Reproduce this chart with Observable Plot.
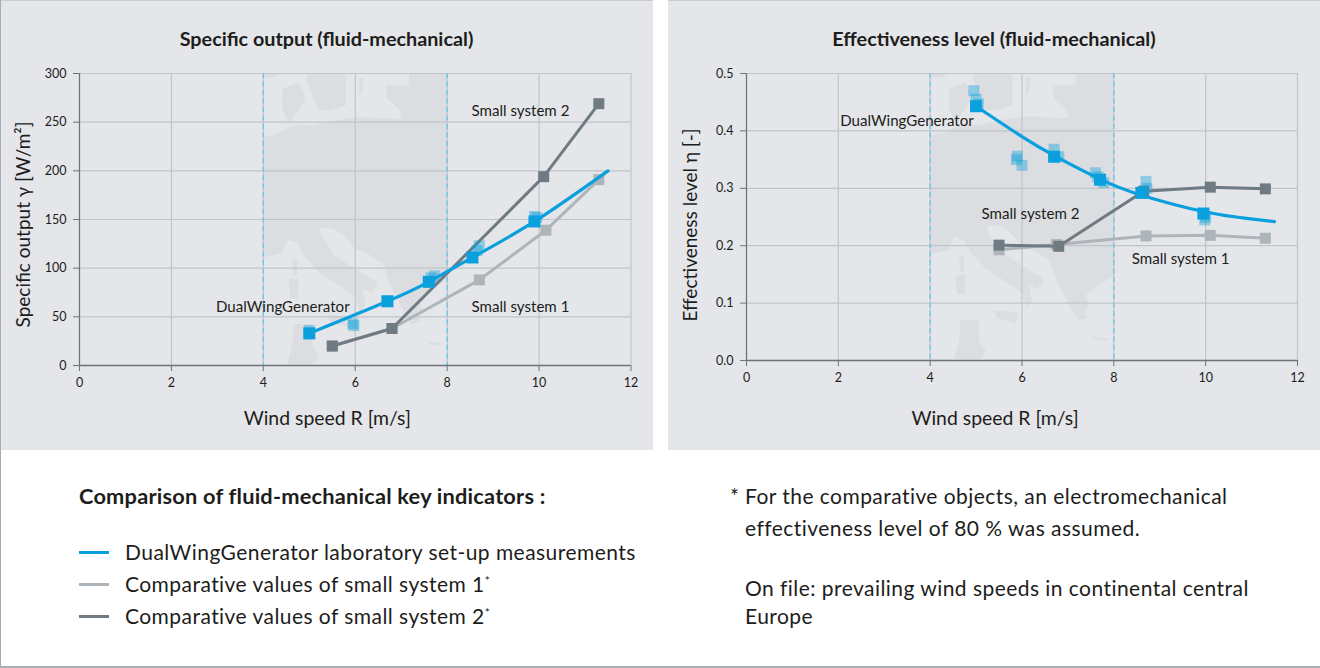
<!DOCTYPE html>
<html><head><meta charset="utf-8">
<script src="https://cdn.jsdelivr.net/npm/d3@7"></script>
<script src="https://cdn.jsdelivr.net/npm/@observablehq/plot@0.6"></script>
<style>
html,body{margin:0;padding:0;background:#fff;}
body{width:1320px;height:668px;overflow:hidden;font-family:Lato,"Open Sans",sans-serif;color:#1d1d1b;position:relative;}
#frame{position:absolute;left:0;top:0;width:1319px;height:666px;border-left:1px solid #a9adb0;border-bottom:2px solid #a9adb0;pointer-events:none;box-sizing:content-box;}
.panel{position:absolute;top:0;height:450px;background:#e4e6e9;border-top:1px solid #c9cccf;box-sizing:border-box;}
#p1{left:0;width:653px;} #p2{left:668px;width:652px;}
.panel h2{margin:0;height:61px;line-height:74px;font-size:19.8px;font-weight:700;text-align:center;}
.panel svg{display:block;background:transparent;font-family:Lato,"Open Sans",sans-serif;}
#legend{position:absolute;left:79px;top:480px;}
#legend h3{margin:0 0 24px 0;font-size:21.8px;line-height:32px;font-weight:700;letter-spacing:.2px;white-space:nowrap;}
.row{height:32px;line-height:32px;font-size:21px;display:flex;align-items:center;letter-spacing:.45px;white-space:nowrap;}
.sw{width:30px;height:3px;margin-right:16px;}
sup{font-size:12px;line-height:0;vertical-align:7px;letter-spacing:0;}
#notes{position:absolute;left:730px;top:480px;font-size:21px;line-height:32px;letter-spacing:.45px;}
#notes div{padding-left:15px;white-space:nowrap;}
</style></head><body>
<div class="panel" id="p1"><h2>Specific output (fluid-mechanical)</h2></div>
<div class="panel" id="p2"><h2>Effectiveness level (fluid-mechanical)</h2></div>
<div id="legend"></div>
<div id="notes"></div>
<div id="frame"></div>
<script>
// ---- values ----
const xTicks = [0,2,4,6,8,10,12];
const prevailing = [4,8];
const outputTicks = [0,50,100,150,200,250,300];
const effectTicks = [0,0.1,0.2,0.3,0.4,0.5];

const outputDWG = [[5,33],[6.7,66],[7.6,86],[8.55,111],[9.9,148]];
const outputDWGCurve = [[5,33],[6.7,66],[7.6,86],[8.55,111],[9.9,148],[11.5,200]];
const outputDWGRaw = [[5,36],[5.95,43],[5.97,41],[7.65,90],[7.72,92],[8.65,118],[8.7,123],[9.95,152],[9.9,153]];
const outputS1 = [[5.5,20],[6.8,38],[8.7,88],[10.15,139],[11.3,191]];
const outputS2 = [[5.5,20],[6.8,38],[10.1,194],[11.3,269]];

const effectDWG = [[5,0.443],[6.7,0.355],[7.7,0.315],[8.6,0.292],[9.95,0.256]];
const effectDWGCurve = [[5,0.443],[6,0.39],[6.7,0.357],[7.7,0.316],[8.6,0.288],[9.95,0.2595],[10.8,0.2485],[11.5,0.242]];
const effectDWGRaw = [[4.95,0.47],[5,0.455],[5.05,0.447],[5.9,0.356],[5.88,0.35],[6,0.34],[6.7,0.368],[6.8,0.355],[7.6,0.327],[7.65,0.32],[7.78,0.31],[8.7,0.312],[8.72,0.3],[10,0.25],[9.98,0.245]];
const effectS1 = [[5.5,0.193],[6.75,0.202],[8.7,0.217],[10.1,0.218],[11.3,0.213]];
const effectS2 = [[5.5,0.201],[6.8,0.199],[8.65,0.295],[10.1,0.302],[11.3,0.299]];

const outputLabels = [["DualWingGenerator",2.97,60],["Small system 2",8.53,261],["Small system 1",8.53,60]];
const effectLabels = [["DualWingGenerator",2.04,0.417],["Small system 2",5.12,0.255],["Small system 1",8.39,0.176]];

// Europe silhouette: wind speed on x, share of the axis height on y
const mapShapes = [
 [[4,.782],[4.26,.79],[4.55,.815],[4.77,.825],[5.07,.82],[5.57,.839],[6.01,.85],[6.3,.85],[6.81,.845],[7.02,.845],[6.95,.879],[6.7,.913],[6.66,.959],[7.17,.959],[7.17,.999],[8,.999],[8,.297],[7.68,.262],[7.39,.228],[7.46,.19],[7.35,.17],[7.43,.15],[7.24,.14],[7.1,.17],[6.95,.22],[6.81,.26],[6.7,.3],[6.62,.345],[6.3,.38],[6,.4],[5.75,.445],[5.5,.47],[5.24,.47],[5.28,.44],[5.57,.375],[6.01,.33],[6.44,.29],[6.48,.27],[6.33,.25],[6.15,.265],[6.22,.21],[6.1,.18],[6.01,.235],[5.64,.275],[5.21,.32],[4.92,.37],[4.73,.42],[4.52,.43],[4.41,.385],[4,.37]],
 [[4.95,.999],[5.79,.999],[5.79,.89],[5.43,.873],[5.21,.873],[5.03,.94],[4.95,.98]],
 [[4.41,.947],[4.77,.97],[4.92,.913],[4.77,.879],[4.55,.828],[4.41,.879]],
 [[4,.999],[4.41,.999],[4.26,.987],[4,.987]],
 [[6.1,.985],[6.19,.985],[6.13,.93],[6.08,.93]],
 [[4.63,.365],[4.75,.365],[4.73,.31],[4.66,.31]],
 [[4.55,.297],[4.77,.297],[4.75,.23],[4.58,.23]],
 [[5.39,.175],[5.93,.165],[5.86,.13],[5.46,.148]],
 [[4.66,.142],[5.06,.142],[5.06,.068],[5.21,.034],[5.1,.005],[4.52,.005],[4.63,.068]],
 [[7.53,.085],[7.93,.074],[7.68,.068]]
];

const legendTitle = "Comparison of fluid-mechanical key indicators :";
const legendItems = [
 ["DualWingGenerator laboratory set-up measurements","#0a9fdd",""],
 ["Comparative values of small system 1","#aeb5ba","*"],
 ["Comparative values of small system 2","#6f7a82","*"]
];
const noteLines = ["For the comparative objects, an electromechanical","effectiveness level of 80 % was assumed.","","On file: prevailing wind speeds in continental central","Europe"];

// ---- drawing ----
const BLUE="#0a9fdd", S1="#aeb5ba", S2="#6f7a82", GRID="#c0c5c9", AXIS="#6e7478", DASH="#6cc5e6", MAP="#dbdde0";

function chart({yMax,yTicks,tickFmt,yTitle,dwg,curve,raw,s1,s2,labels,w,ml,mr,mb,xDx,xDy,yDy}){
  const shapes = mapShapes.flatMap((s,i)=>s.map(([x,f])=>({x,y:f*yMax,i})));
  return Plot.plot({
    width:w,height:388,
    marginLeft:ml,marginRight:mr,marginTop:11,marginBottom:mb,
    style:{background:"transparent",overflow:"visible"},
    x:{domain:[0,12]},
    y:{domain:[0,yMax]},
    marks:[
      Plot.line(shapes,{x:"x",y:"y",z:"i",fill:MAP,stroke:"none",curve:"linear"}),
      Plot.ruleX(xTicks,{stroke:GRID,strokeWidth:1.2,strokeOpacity:1}),
      Plot.ruleY(yTicks,{stroke:GRID,strokeWidth:1.2,strokeOpacity:1}),
      Plot.ruleX(prevailing,{stroke:DASH,strokeWidth:1.3,strokeDasharray:"5 3.5"}),
      Plot.ruleX([0],{stroke:AXIS,strokeWidth:1.2}),
      Plot.ruleY([0],{stroke:AXIS,strokeWidth:1.6}),
      Plot.axisX({ticks:xTicks,tickSize:6,tickPadding:7,fontSize:12.5,stroke:AXIS,color:"#1d1d1b",label:null,tickFormat:d=>d}),
      Plot.axisY({ticks:yTicks,tickSize:6,tickPadding:7,fontSize:12.5,stroke:AXIS,color:"#1d1d1b",label:null,tickFormat:tickFmt}),
      Plot.text(["Wind speed R [m/s]"],{frameAnchor:"bottom",dx:xDx,dy:xDy,fontSize:19.4,fill:"#1d1d1b",lineAnchor:"bottom"}),
      Plot.text([yTitle],{frameAnchor:"left",textAnchor:"middle",dx:-56,dy:yDy,rotate:-90,fontSize:19,fill:"#1d1d1b"}),
      Plot.line(s1,{x:"0",y:"1",stroke:S1,strokeWidth:3}),
      Plot.dot(s1,{x:"0",y:"1",symbol:"square",r:6.2,fill:S1,stroke:"none"}),
      Plot.line(s2,{x:"0",y:"1",stroke:S2,strokeWidth:3}),
      Plot.dot(s2,{x:"0",y:"1",symbol:"square",r:6.2,fill:S2,stroke:"none"}),
      Plot.dot(raw,{x:"0",y:"1",symbol:"square",r:6.2,fill:BLUE,fillOpacity:.4,stroke:"none"}),
      Plot.line(curve,{x:"0",y:"1",stroke:BLUE,strokeWidth:3.2,curve:"natural"}),
      Plot.dot(dwg,{x:"0",y:"1",symbol:"square",r:6.8,fill:BLUE,stroke:"none"}),
      Plot.text(labels,{x:"1",y:"2",text:"0",textAnchor:"start",fontSize:15.1,fill:"#1d1d1b"})
    ]
  });
}

document.getElementById("p1").append(chart({
  yMax:300,yTicks:outputTicks,tickFmt:d=>d,yTitle:"Specific output γ [W/m²]",
  dwg:outputDWG,curve:outputDWGCurve,raw:outputDWGRaw,s1:outputS1,s2:outputS2,labels:outputLabels,
  w:653,ml:79,mr:22.5,mb:85,xDx:-28,xDy:59,yDy:5
}));
document.getElementById("p2").append(chart({
  yMax:0.5,yTicks:effectTicks,tickFmt:d=>d.toFixed(1),yTitle:"Effectiveness level η [-]",
  dwg:effectDWG,curve:effectDWGCurve,raw:effectDWGRaw,s1:effectS1,s2:effectS2,labels:effectLabels,
  w:652,ml:78,mr:23,mb:90,xDx:-27,xDy:64,yDy:8
}));

const lg=document.getElementById("legend");
lg.innerHTML=`<h3>${legendTitle}</h3>`+legendItems.map(([t,c,m])=>`<div class="row"><span class="sw" style="background:${c}"></span><span>${t}${m?`<sup>${m}</sup>`:""}</span></div>`).join("");
const nt=document.getElementById("notes");
nt.innerHTML=`<span style="position:absolute;left:0;top:0">*</span>`+noteLines.map(l=>`<div style="${l===''?'height:28px':(l==='Europe'?'line-height:24px':'')}">${l}</div>`).join("");
</script>
</body></html>
